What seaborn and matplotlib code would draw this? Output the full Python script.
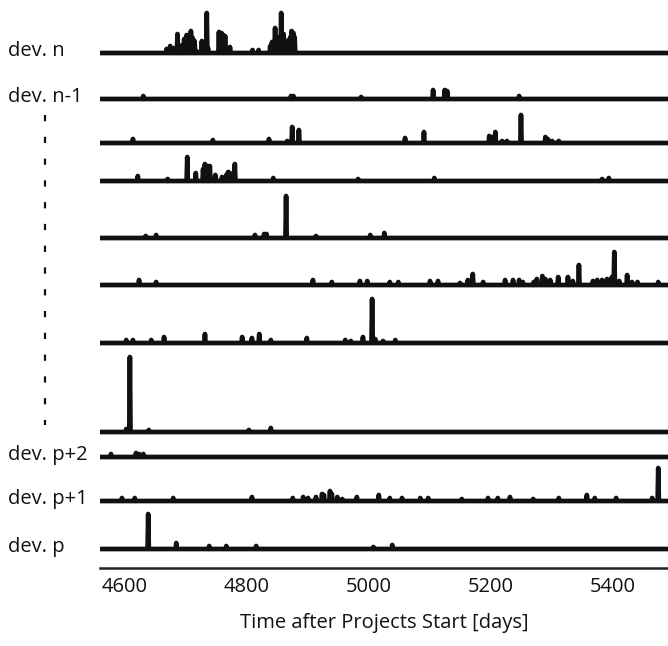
import numpy as np
import pandas as pd
import matplotlib.pyplot as plt
import seaborn as sns
from matplotlib.lines import Line2D

# spike days and heights (px above the row baseline), top row first
dev_n_days = [4668, 4674, 4679, 4686, 4690, 4694, 4697, 4701, 4704, 4708, 4711, 4714, 4717,
              4726, 4730, 4734, 4736, 4754, 4758, 4761, 4764, 4772, 4809, 4819,
              4838, 4841, 4843, 4846, 4850, 4853, 4856, 4860, 4863, 4866, 4868, 4871, 4873, 4876, 4878]
dev_n_vals = [4, 7, 5, 19, 4, 8, 14, 18, 16, 22, 15, 12, 2,
              12, 6, 40, 5, 21, 20, 18, 17, 6, 3, 3,
              7, 11, 10, 25, 13, 16, 40, 19, 9, 8, 13, 16, 22, 20, 16]

dev_n1_days = [4630, 4872, 4876, 4987, 5105, 5124, 5128, 5246]
dev_n1_vals = [3, 3, 3, 2, 9, 9, 8, 3]

row3_days = [4613, 4744, 4836, 4866, 4874, 4885, 5059, 5090, 5197, 5201, 5207, 5218, 5226,
             5249, 5289, 5293, 5300, 5311]
row3_vals = [4, 3, 4, 2, 16, 13, 5, 11, 7, 6, 11, 2, 2, 28, 6, 4, 2, 2]

row4_days = [4621, 4670, 4702, 4716, 4728, 4731, 4735, 4739, 4748, 4759, 4766, 4769, 4772,
             4776, 4780, 4843, 4982, 5107, 5382, 5393]
row4_vals = [5, 2, 24, 8, 12, 17, 15, 15, 6, 4, 6, 9, 8, 4, 17, 3, 2, 3, 2, 3]

row5_days = [4634, 4651, 4813, 4828, 4832, 4864, 4913, 5002, 5025]
row5_vals = [2, 3, 3, 4, 4, 42, 2, 3, 5]

row6_days = [4623, 4651, 4908, 4939, 4985, 4997, 5034, 5048, 5100, 5113, 5149, 5162, 5170,
             5187, 5223, 5236, 5246, 5252, 5270, 5275, 5284, 5289, 5297, 5310, 5326, 5334,
             5344, 5367, 5374, 5382, 5390, 5398, 5402, 5410, 5423, 5431, 5440, 5474]
row6_vals = [5, 3, 5, 3, 4, 4, 3, 3, 4, 4, 2, 5, 11,
             3, 5, 5, 5, 3, 3, 6, 9, 6, 5, 8, 8, 4,
             20, 4, 5, 5, 6, 8, 33, 4, 10, 3, 3, 3]

row7_days = [4602, 4613, 4643, 4664, 4731, 4792, 4808, 4820, 4839, 4898, 4961, 4970, 4990,
             5005, 5010, 5023, 5043]
row7_vals = [3, 3, 3, 6, 9, 6, 5, 9, 3, 5, 3, 2, 6, 44, 4, 2, 3]

row8_days = [4602, 4608, 4639, 4803, 4839]
row8_vals = [3, 75, 2, 2, 4]

dev_p2_days = [4577, 4618, 4623, 4630]
dev_p2_vals = [3, 4, 3, 3]

dev_p1_days = [4595, 4616, 4679, 4808, 4875, 4892, 4900, 4913, 4923, 4926, 4936, 4939, 4948,
               4956, 4980, 5016, 5034, 5054, 5084, 5097, 5152, 5195, 5211, 5231, 5269, 5311,
               5357, 5370, 5405, 5464, 5474]
dev_p1_vals = [3, 3, 3, 4, 3, 4, 3, 4, 7, 6, 10, 7, 4,
               2, 4, 6, 3, 3, 3, 3, 2, 3, 3, 4, 2, 3,
               6, 3, 3, 3, 33]

dev_p_days = [4638, 4684, 4738, 4766, 4815, 5007, 5038]
dev_p_vals = [35, 6, 3, 3, 3, 2, 4]

row_labels = ["dev. n", "dev. n-1", "", "", "", "", "", "", "dev. p+2", "dev. p+1", "dev. p"]
x_ticks = [4600, 4800, 5000, 5200, 5400]

series = [(dev_n_days, dev_n_vals), (dev_n1_days, dev_n1_vals), (row3_days, row3_vals),
          (row4_days, row4_vals), (row5_days, row5_vals), (row6_days, row6_vals),
          (row7_days, row7_vals), (row8_days, row8_vals), (dev_p2_days, dev_p2_vals),
          (dev_p1_days, dev_p1_vals), (dev_p_days, dev_p_vals)]

# layout: baseline of each row in pixels from the top of the figure
W, H = 668, 646
AX_LEFT, AX_BOTTOM = 100, 568
baseline_px = [53, 99, 143, 181, 238, 285, 343, 432, 457, 501, 549]
X0, X1 = 4559, 5490

days = np.arange(X0, X1 + 1)
frames = []
for i, (d, v) in enumerate(series):
    y = np.zeros(len(days))
    y[np.array(d) - X0] = v
    frames.append(pd.DataFrame({"day": days,
                                "y": (AX_BOTTOM - baseline_px[i]) + y,
                                "row": i}))
df = pd.concat(frames, ignore_index=True)

sns.set_theme(style="white")
plt.rcParams["font.family"] = ["Open Sans", "DejaVu Sans"]

fig = plt.figure(figsize=(W / 100, H / 100), dpi=100)
ax = fig.add_axes([AX_LEFT / W, (H - AX_BOTTOM) / H, (W - AX_LEFT) / W, AX_BOTTOM / H])

sns.lineplot(data=df, x="day", y="y", units="row", estimator=None, color="#111111",
             linewidth=3.4, ax=ax, legend=False)
for ln in ax.lines:
    ln.set_solid_capstyle("butt")
    ln.set_solid_joinstyle("round")

ax.set_xlim(X0, X1)
ax.set_ylim(0, AX_BOTTOM)
ax.set_yticks([])
ax.set_ylabel("")
ax.set_xticks(x_ticks)
ax.set_xticklabels([str(t) for t in x_ticks])
sns.despine(ax=ax, left=True, top=True, right=True)
ax.spines["bottom"].set_linewidth(1.8)
ax.spines["bottom"].set_color("#222222")
ax.tick_params(axis="x", direction="out", length=3.5, width=5, color="#111111",
               labelsize=14.5, pad=3, labelcolor="#111111")
ax.set_xlabel("Time after Projects Start [days]", fontsize=14.5, color="#111111")
ax.xaxis.set_label_coords(0.5, (AX_BOTTOM - 613) / AX_BOTTOM)

for i, lab in enumerate(row_labels):
    if lab:
        fig.text(8 / W, 1 - (baseline_px[i] + 3) / H, lab, fontsize=14.5,
                 ha="left", va="baseline", color="#111111")

# dashed marker for the omitted developers
fig.add_artist(Line2D([45 / W, 45 / W], [1 - 115 / H, 1 - 425 / H],
                      transform=fig.transFigure, color="#111111", linewidth=1.6,
                      dashes=(2.8, 7.0)))

fig.savefig("out.png", dpi=100)
